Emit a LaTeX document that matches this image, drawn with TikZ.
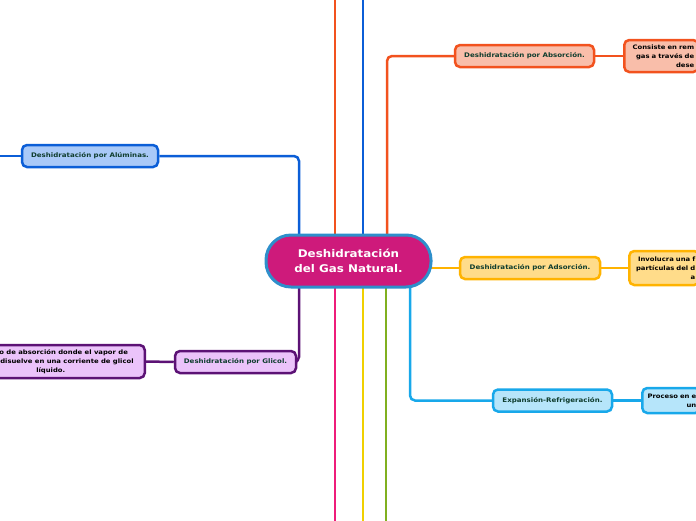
\documentclass[tikz,border=0pt]{standalone}
\usepackage{fontspec}
\setmainfont{DejaVu Sans}[FakeStretch=1.12]
\usetikzlibrary{backgrounds}
\definecolor{cMag}{HTML}{CE1A7B}
\definecolor{cMagB}{HTML}{2E8FCB}
\definecolor{cOr}{HTML}{F2521E}
\definecolor{cOrF}{HTML}{F9BEAA}
\definecolor{cBl}{HTML}{0B5ED7}
\definecolor{cBlF}{HTML}{A9C9F8}
\definecolor{cYe}{HTML}{FFB300}
\definecolor{cYeF}{HTML}{FFDC8A}
\definecolor{cLb}{HTML}{18A8EA}
\definecolor{cLbF}{HTML}{B6E5FA}
\definecolor{cPu}{HTML}{5C1275}
\definecolor{cPuF}{HTML}{EBC3FA}
\definecolor{cPk}{HTML}{EE1C7A}
\definecolor{cYl}{HTML}{F0D000}
\definecolor{cGr}{HTML}{80B020}
\definecolor{cTxt}{HTML}{0F3D2E}
\begin{document}
\begin{tikzpicture}[x=1pt,y=-1pt,
  conn/.style={line width=2.5pt,rounded corners=5pt},
  branch/.style={draw,line width=2.5pt,rounded corners=5pt,minimum height=22pt,inner sep=0pt,
     text=cTxt,font=\fontsize{6.3}{9}\selectfont\bfseries},
  leaf/.style={draw,line width=2.5pt,rounded corners=5pt,inner ysep=3pt,align=center,
     font=\fontsize{6.1}{9}\selectfont\bfseries},
  rleaf/.style={leaf,align=right,text width=70pt,inner xsep=4pt,anchor=west}]
\useasboundingbox (0,0) rectangle (696,520);
\clip (0,0) rectangle (696,520);
% central node
\node[draw=cMagB,fill=cMag,line width=3pt,rounded corners=25pt,minimum width=165pt,minimum height=52pt,
  text=white,align=center,font=\fontsize{10.6}{15}\selectfont\bfseries,inner sep=0pt] (c) at (348.5,261) {Deshidratación\\del Gas Natural.};
% branch nodes
\node[branch,draw=cBl,fill=cBlF,minimum width=136pt] (alu) at (90,156) {Deshidratación por Alúminas.};
\node[branch,draw=cOr,fill=cOrF,minimum width=139pt] (abs) at (524.5,56) {Deshidratación por Absorción.};
\node[branch,draw=cYe,fill=cYeF,minimum width=140pt] (ads) at (530,268) {Deshidratación por Adsorción.};
\node[branch,draw=cLb,fill=cLbF,minimum width=119pt] (exp) at (552.5,400.5) {Expansión-Refrigeración.};
\node[branch,draw=cPu,fill=cPuF,minimum width=121pt] (gli) at (235.5,362) {Deshidratación por Glicol.};
% leaves
\node[rleaf,draw=cOr,fill=cOrF,minimum height=32pt,text width=66pt] (absL) at (623,56) {Consiste en rem\\gas a través de\\dese};
\node[rleaf,draw=cYe,fill=cYeF,minimum height=34pt,text width=62pt] (adsL) at (628,268) {Involucra una f\\partículas del d\\a};
\node[rleaf,draw=cLb,fill=cLbF,minimum height=25pt,text width=50pt] (expL) at (641,400.5) {Proceso en e\\un};
\node[leaf,draw=cPu,fill=cPuF,minimum width=188pt,minimum height=33pt,anchor=east] (gliL) at (146,361.5)
  {Proceso de absorción donde el vapor de\\agua se disuelve en una corriente de glicol\\líquido.};
% free ends
\coordinate (aluEnd) at (-10,156);
\coordinate (xA) at (299,0);
\coordinate (xB) at (387,0);
\coordinate (xC) at (410,0);
\coordinate (tO) at (335,-5);
\coordinate (tB) at (363,-5);
\coordinate (bP) at (335,525);
\coordinate (bY) at (363,525);
\coordinate (bG) at (386,525);
\begin{scope}[on background layer]
\draw[conn,cOr] (c.center -| tO) -- (tO);
\draw[conn,cBl] (c.center -| tB) -- (tB);
\draw[conn,cPk] (c.center -| bP) -- (bP);
\draw[conn,cYl] (c.center -| bY) -- (bY);
\draw[conn,cGr] (c.center -| bG) -- (bG);
\draw[conn,cBl] (c.center -| xA) |- (alu.east);
\draw[conn,cBl] (alu.west) -- (aluEnd);
\draw[conn,cOr] (c.center -| xB) |- (abs.west);
\draw[conn,cOr] (abs.east) -- (absL.west);
\draw[conn,cYe] (c.center |- ads.west) -- (ads.west);
\draw[conn,cYe] (ads.east) -- (adsL.west);
\draw[conn,cLb] (c.center -| xC) |- (exp.west);
\draw[conn,cLb] (exp.east) -- (expL.west);
\draw[conn,cPu] (c.center -| xA) |- (gli.east);
\draw[conn,cPu] (gli.west) -- (gliL.east);
\end{scope}
\end{tikzpicture}
\end{document}
